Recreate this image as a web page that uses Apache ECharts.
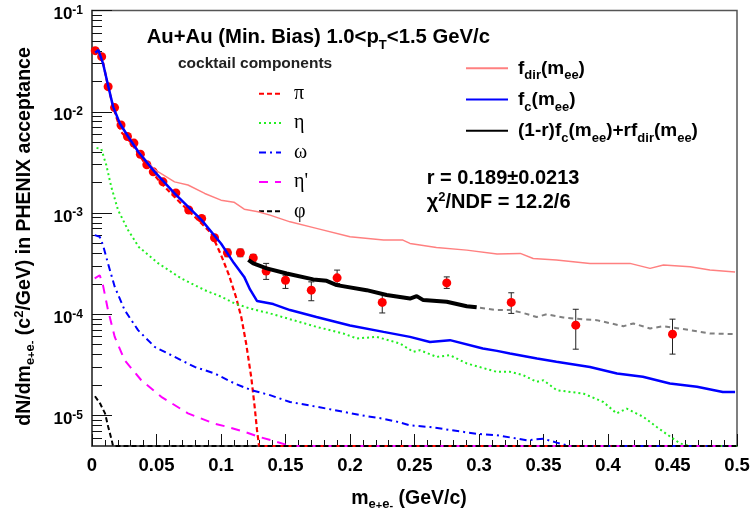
<!DOCTYPE html>
<html>
<head>
<meta charset="utf-8">
<script src="https://cdn.jsdelivr.net/npm/echarts@6/dist/echarts.min.js"></script>
<style>html,body{margin:0;padding:0;background:#fff}#c{width:755px;height:520px}</style>
</head>
<body>
<div id="c"></div>
<script>
// ---------------- data ----------------
const xTickValues = [0, 0.05, 0.1, 0.15, 0.2, 0.25, 0.3, 0.35, 0.4, 0.45, 0.5];
const xTickLabels = ['0', '0.05', '0.1', '0.15', '0.2', '0.25', '0.3', '0.35', '0.4', '0.45', '0.5'];
const yMajorTicks = [1e-5, 1e-4, 1e-3, 1e-2, 1e-1];
const yTickLabels = [['10', '-5'], ['10', '-4'], ['10', '-3'], ['10', '-2'], ['10', '-1']];
const yMinorTicks = [6e-6, 7e-6, 8e-6, 9e-6,
  2e-5, 3e-5, 4e-5, 5e-5, 6e-5, 7e-5, 8e-5, 9e-5,
  2e-4, 3e-4, 4e-4, 5e-4, 6e-4, 7e-4, 8e-4, 9e-4,
  2e-3, 3e-3, 4e-3, 5e-3, 6e-3, 7e-3, 8e-3, 9e-3,
  2e-2, 3e-2, 4e-2, 5e-2, 6e-2, 7e-2, 8e-2, 9e-2];

// measured data points
const ptMass  = [0.0025, 0.0075, 0.0125, 0.0175, 0.0225, 0.0275, 0.0325, 0.0375, 0.0425, 0.0475,
                 0.055, 0.065, 0.075, 0.085, 0.095, 0.105, 0.115, 0.125, 0.135, 0.15, 0.17, 0.19,
                 0.225, 0.275, 0.325, 0.375, 0.45];
const ptYield = [0.0401, 0.035, 0.0177, 0.0110, 0.0074, 0.0057, 0.0049, 0.0038, 0.0030, 0.00255,
                 0.00203, 0.00158, 0.00107, 0.000885, 0.000569, 0.000405, 0.000405, 0.00036, 0.000267,
                 0.000217, 0.000173, 0.000229, 0.000131, 0.000204, 0.000131, 0.000078, 0.0000636];
const ptErrLow  = [null, null, null, null, null, null, null, null, null, null, null, null, null, null, null,
                   0.00037, 0.00037, 0.00033, 0.000221, 0.00018, 0.000136, 0.000201, 0.000103, 0.00018,
                   0.000102, 0.0000452, 0.0000404];
const ptErrHigh = [null, null, null, null, null, null, null, null, null, null, null, null, null, null, null,
                   0.00044, 0.00044, 0.00039, 0.000318, 0.000243, 0.000209, 0.000273, 0.000158, 0.000234,
                   0.000163, 0.000112, 0.0000895];

// cocktail components
const piCurve = [[0.0025, 0.037], [0.0047, 0.0392], [0.0085, 0.0312], [0.0124, 0.0177], [0.0171, 0.0104],
  [0.0227, 0.0063], [0.0305, 0.0049], [0.0409, 0.0031], [0.0537, 0.00196], [0.0667, 0.00133],
  [0.0796, 0.00092], [0.0925, 0.00063], [0.1002, 0.00038], [0.1062, 0.000243], [0.1116, 0.000148],
  [0.1157, 0.000094], [0.1195, 0.0000514], [0.1234, 0.0000241], [0.1261, 0.0000122], [0.1279, 0.0000072],
  [0.1295, 0.000005], [0.5, 0.000005]];
const etaCurve = [[0.0035, 0.0044], [0.0072, 0.00428], [0.0111, 0.00297], [0.015, 0.0018], [0.0202, 0.00107],
  [0.0279, 0.00068], [0.0364, 0.00046], [0.0512, 0.00032], [0.0692, 0.000226], [0.0874, 0.000173],
  [0.1002, 0.000149], [0.1106, 0.000128], [0.1225, 0.000114], [0.138, 0.000102], [0.156, 0.0000875],
  [0.1742, 0.000075], [0.1948, 0.0000646], [0.2052, 0.0000577], [0.2207, 0.0000598], [0.2388, 0.0000514],
  [0.2491, 0.0000425], [0.2543, 0.0000442], [0.2672, 0.0000379], [0.2775, 0.0000394], [0.2905, 0.0000327],
  [0.3137, 0.000027], [0.324, 0.000027], [0.3343, 0.000025], [0.3447, 0.0000215], [0.3499, 0.0000223],
  [0.3602, 0.0000178], [0.3808, 0.0000165], [0.3964, 0.0000136], [0.4067, 0.0000105], [0.4145, 0.0000117],
  [0.4274, 0.0000097], [0.4378, 0.0000077], [0.4481, 0.0000062], [0.4558, 0.0000053], [0.4636, 0.000005],
  [0.5, 0.000005]];
const omegaCurve = [[0.0021, 0.000605], [0.006, 0.000582], [0.0085, 0.000482], [0.0124, 0.000318],
  [0.0176, 0.000187], [0.0253, 0.00011], [0.0357, 0.0000697], [0.0486, 0.0000476], [0.0641, 0.0000379],
  [0.0796, 0.0000302], [0.0951, 0.000026], [0.1106, 0.0000207], [0.1235, 0.0000178], [0.138, 0.0000159],
  [0.1535, 0.0000136], [0.1742, 0.0000122], [0.1948, 0.0000109], [0.2078, 0.0000101], [0.2258, 0.0000093],
  [0.2362, 0.0000087], [0.2465, 0.000008], [0.262, 0.0000077], [0.2775, 0.0000072], [0.2982, 0.0000066],
  [0.3137, 0.0000064], [0.337, 0.0000057], [0.3499, 0.0000059], [0.3602, 0.0000054], [0.3705, 0.000005],
  [0.5, 0.000005]];
const etaPrimeCurve = [[0.0021, 0.000226], [0.006, 0.000243], [0.0085, 0.000194], [0.0124, 0.00011],
  [0.0176, 0.0000598], [0.0253, 0.0000352], [0.0382, 0.0000223], [0.0537, 0.0000153], [0.0744, 0.0000105],
  [0.0951, 0.0000083], [0.1054, 0.0000077], [0.1184, 0.0000069], [0.1287, 0.0000062], [0.1432, 0.0000055],
  [0.1535, 0.000005], [0.5, 0.000005]];
const phiCurve = [[0.0023, 0.0000155], [0.0062, 0.0000132], [0.0101, 0.0000105], [0.0126, 0.0000077],
  [0.0153, 0.0000057], [0.0163, 0.000005], [0.5, 0.000005]];

// fit functions
const fcCurve = [[0.0025, 0.0383], [0.005, 0.0407], [0.0085, 0.0301], [0.0124, 0.0184], [0.0163, 0.0113],
  [0.0215, 0.0077], [0.028, 0.0057], [0.036, 0.0040], [0.0486, 0.00255], [0.064, 0.00156], [0.085, 0.00085],
  [0.100, 0.00050], [0.110, 0.00032], [0.118, 0.000234], [0.1225, 0.000176], [0.128, 0.000135],
  [0.1405, 0.000126], [0.1535, 0.00011], [0.174, 0.000094], [0.2, 0.0000776], [0.226, 0.000067],
  [0.2465, 0.0000598], [0.262, 0.0000533], [0.2775, 0.0000555], [0.303, 0.0000459], [0.314, 0.0000435],
  [0.324, 0.000041], [0.345, 0.0000366], [0.360, 0.0000339], [0.386, 0.0000302], [0.407, 0.000026],
  [0.427, 0.0000241], [0.448, 0.0000207], [0.469, 0.0000192], [0.489, 0.0000171], [0.4985, 0.0000171]];
const fdirCurve = [[0.0025, 0.0383], [0.005, 0.0407], [0.0085, 0.0301], [0.0124, 0.0184], [0.0163, 0.0113],
  [0.0215, 0.0077], [0.028, 0.0057], [0.036, 0.0041], [0.0382, 0.00375], [0.0486, 0.00268], [0.064, 0.00203],
  [0.0744, 0.00189], [0.0874, 0.00156], [0.100, 0.00134], [0.110, 0.00128], [0.118, 0.00109],
  [0.1287, 0.00103], [0.138, 0.000953], [0.1535, 0.000818], [0.174, 0.000705], [0.2, 0.000582],
  [0.226, 0.00054], [0.241, 0.00054], [0.2465, 0.000501], [0.267, 0.000457], [0.2905, 0.00043],
  [0.314, 0.000393], [0.332, 0.000399], [0.342, 0.000356], [0.360, 0.000343], [0.386, 0.000318],
  [0.417, 0.000318], [0.4326, 0.000284], [0.443, 0.000306], [0.4636, 0.000294], [0.479, 0.000273],
  [0.4985, 0.000262]];
const comboCurve = [[0.1212, 0.000345], [0.125, 0.000318], [0.1354, 0.000284], [0.1509, 0.000253],
  [0.1715, 0.000221], [0.1819, 0.000214], [0.1897, 0.000194], [0.2129, 0.000173], [0.2284, 0.000155],
  [0.2465, 0.000143], [0.2517, 0.000151], [0.2568, 0.000138], [0.275, 0.000133], [0.2905, 0.00012],
  [0.2982, 0.000117]];
const comboExtCurve = [[0.3008, 0.000116], [0.3137, 0.00011], [0.324, 0.00011], [0.3343, 0.000103],
  [0.3447, 0.000094], [0.3525, 0.0001], [0.3654, 0.0000929], [0.3808, 0.0000889], [0.3912, 0.0000875],
  [0.4119, 0.0000762], [0.4196, 0.0000811], [0.4326, 0.0000724], [0.4429, 0.0000762], [0.4636, 0.0000697],
  [0.4791, 0.0000646], [0.4984, 0.0000636]];

const componentNames = ['π', 'η', 'ω', "η'", 'φ'];
const fitNames = ['fdir', 'fc', 'combo'];
const fitLabels = {
  fdir: '{n|f}{sb|dir}{n|(m}{sb|ee}{n|)}',
  fc: '{n|f}{sb|c}{n|(m}{sb|ee}{n|)}',
  combo: '{n|(1-r)f}{sb|c}{n|(m}{sb|ee}{n|)+rf}{sb|dir}{n|(m}{sb|ee}{n|)}'
};

// ---------------- chart ----------------
const F = "'Liberation Sans', Arial, Helvetica, sans-serif";
const SERIF = "'Liberation Serif', 'Times New Roman', serif";

const pointData = ptMass.map((m, i) => [m, ptYield[i]]);
const errData = [];
ptMass.forEach((m, i) => { if (ptErrLow[i] !== null) errData.push([m, ptErrLow[i], ptErrHigh[i]]); });

function xLabel(v) {
  for (let i = 0; i < xTickValues.length; i++) if (Math.abs(v - xTickValues[i]) < 1e-9) return xTickLabels[i];
  return '';
}
function yLabel(v) {
  for (let i = 0; i < yMajorTicks.length; i++) {
    if (Math.abs(v / yMajorTicks[i] - 1) < 1e-6) return '{b|' + yTickLabels[i][0] + '}{s|' + yTickLabels[i][1] + '}';
  }
  return '';
}

function lineSeries(name, data, color, width, type, z, yIdx) {
  return {
    type: 'line', name: name, data: data, yAxisIndex: yIdx || 0,
    symbol: 'none', showSymbol: false, smooth: false, z: z, silent: true,
    lineStyle: {color: color, width: width, type: type, cap: 'butt'},
    itemStyle: {color: color}
  };
}

const subRich = (size, subSize, L) => ({
  n: {fontFamily: F, fontSize: size, fontWeight: 'bold', lineHeight: L, color: '#000'},
  sb: {fontFamily: F, fontSize: subSize, fontWeight: 'bold', lineHeight: 10, verticalAlign: 'bottom', color: '#000'},
  sp: {fontFamily: F, fontSize: subSize, fontWeight: 'bold', lineHeight: 12, verticalAlign: 'top', color: '#000'},
  ssp: {fontFamily: F, fontSize: subSize - 2, fontWeight: 'bold', lineHeight: 16, verticalAlign: 'bottom', color: '#000'}
});

const option = {
  animation: false,
  backgroundColor: '#ffffff',
  grid: {left: 92, right: 18, top: 10.5, bottom: 74, show: true, borderColor: '#555', borderWidth: 1.5},
  xAxis: {
    type: 'value', min: 0, max: 0.5, interval: 0.05,
    axisLine: {show: true, onZero: false, lineStyle: {color: '#444', width: 1.5}},
    axisTick: {show: true, inside: true, length: 12, lineStyle: {color: '#111', width: 1}},
    minorTick: {show: true, splitNumber: 5, length: 6, lineStyle: {color: '#111', width: 1}},
    splitLine: {show: false}, minorSplitLine: {show: false},
    axisLabel: {show: true, margin: 10, fontFamily: F, fontSize: 18.5, fontWeight: 'bold', color: '#000',
      formatter: xLabel, interval: 0, hideOverlap: false}
  },
  yAxis: [
    {
      type: 'log', logBase: 10, min: 5e-6, max: 0.1, position: 'left',
      axisLine: {show: true, lineStyle: {color: '#444', width: 1.5}},
      axisTick: {show: true, inside: true, length: 20, customValues: yMajorTicks, lineStyle: {color: '#111', width: 1}},
      axisLabel: {show: true, customValues: yMajorTicks, margin: 9, formatter: yLabel, padding: [8, 0, 0, 0],
        rich: {
          b: {fontFamily: F, fontSize: 17, fontWeight: 'bold', lineHeight: 20, color: '#000'},
          s: {fontFamily: F, fontSize: 12, fontWeight: 'bold', lineHeight: 16, verticalAlign: 'top', color: '#000'}
        }},
      splitLine: {show: false}, minorTick: {show: false}
    },
    {
      type: 'log', logBase: 10, min: 5e-6, max: 0.1, position: 'left', offset: 0,
      axisLine: {show: false},
      axisTick: {show: true, inside: true, length: 10, customValues: yMinorTicks, lineStyle: {color: '#111', width: 1}},
      axisLabel: {show: false},
      splitLine: {show: false}, minorTick: {show: false}
    }
  ],
  legend: [
    {
      data: componentNames, orient: 'vertical', left: 258, top: 83.7, padding: 0,
      itemWidth: 22, itemHeight: 14, itemGap: 9.4, selectedMode: false,
      itemStyle: {opacity: 0},
      textStyle: {fontFamily: SERIF, fontSize: 20, color: '#000', lineHeight: 16, padding: [0, 0, 0, 8]}
    },
    {
      data: fitNames, orient: 'vertical', left: 465, top: 54.3, padding: 0,
      itemWidth: 42, itemHeight: 14, itemGap: 3.2, selectedMode: false,
      itemStyle: {opacity: 0},
      formatter: name => fitLabels[name],
      textStyle: {fontFamily: F, fontSize: 19, fontWeight: 'bold', color: '#000', lineHeight: 28,
        padding: [0, 0, 0, 5], rich: subRich(19, 13, 28)}
    }
  ],
  graphic: [
    {type: 'text', x: 146.7, y: 37, silent: true, style: {
      text: '{n|Au+Au (Min. Bias) 1.0<p}{sb|T}{n|<1.5 GeV/c}', rich: subRich(20.3, 13, 30),
      align: 'left', verticalAlign: 'middle'}},
    {type: 'text', x: 178, y: 64, silent: true, style: {
      text: 'cocktail components', fontFamily: F, fontSize: 15.5, fontWeight: 'bold', fill: '#222',
      align: 'left', verticalAlign: 'middle'}},
    {type: 'text', x: 426.7, y: 178, silent: true, style: {
      text: 'r = 0.189±0.0213', fontFamily: F, fontSize: 20, fontWeight: 'bold', fill: '#000',
      align: 'left', verticalAlign: 'middle'}},
    {type: 'text', x: 426.7, y: 202.5, silent: true, style: {
      text: '{n|χ}{sp|2}{n|/NDF = 12.2/6}', rich: subRich(20, 13, 24),
      align: 'left', verticalAlign: 'middle'}},
    {type: 'text', x: 409, y: 499, silent: true, style: {
      text: '{n|m}{sb|e}{ssp|+}{sb|e}{ssp|-}{n| (GeV/c)}', rich: subRich(19.5, 13, 24),
      align: 'center', verticalAlign: 'middle'}},
    {type: 'text', x: 25, y: 236.5, rotation: Math.PI / 2, silent: true, style: {
      text: '{n|dN/dm}{sb|e}{ssp|+}{sb|e}{ssp|-}{n| (c}{sp|2}{n|/GeV) in PHENIX acceptance}', rich: subRich(19.5, 13, 24),
      align: 'center', verticalAlign: 'middle'}}
  ],
  series: [
    {
      type: 'custom', name: 'errors', z: 2, silent: true,
      data: errData, encode: {x: 0, y: [1, 2]},
      renderItem: function (params, api) {
        const x = api.value(0), lo = api.value(1), hi = api.value(2);
        const a = api.coord([x, hi]), b = api.coord([x, lo]);
        const s = {stroke: '#222', lineWidth: 1};
        return {type: 'group', children: [
          {type: 'line', shape: {x1: a[0], y1: a[1], x2: b[0], y2: b[1]}, style: s},
          {type: 'line', shape: {x1: a[0] - 3, y1: a[1], x2: a[0] + 3, y2: a[1]}, style: s},
          {type: 'line', shape: {x1: b[0] - 3, y1: b[1], x2: b[0] + 3, y2: b[1]}, style: s}
        ]};
      }
    },
    {
      type: 'scatter', name: 'data', z: 3, silent: true,
      data: pointData, symbol: 'circle', symbolSize: 9,
      itemStyle: {color: '#ff0000', opacity: 1}
    },
    lineSeries('π', piCurve, '#ff0000', 2.2, [5, 3], 4),
    lineSeries('η', etaCurve, '#22ee22', 2, [2, 3], 4),
    lineSeries('ω', omegaCurve, '#0000ff', 2, [7, 4, 2, 4], 4),
    lineSeries("η'", etaPrimeCurve, '#ff00ff', 2, [9, 7], 4),
    lineSeries('φ', phiCurve, '#000000', 2, [5, 3], 4),
    lineSeries('fdir', fdirCurve, '#ff8080', 1.5, 'solid', 5),
    lineSeries('fc', fcCurve, '#0000ff', 2.5, 'solid', 6),
    lineSeries('combo', comboCurve, '#000000', 4, 'solid', 7),
    lineSeries('comboExt', comboExtCurve, '#808080', 2, [5, 4], 7, 1)
  ]
};

const chart = echarts.init(document.getElementById('c'), null, {renderer: 'canvas', width: 755, height: 520});
chart.setOption(option);
</script>
</body>
</html>
